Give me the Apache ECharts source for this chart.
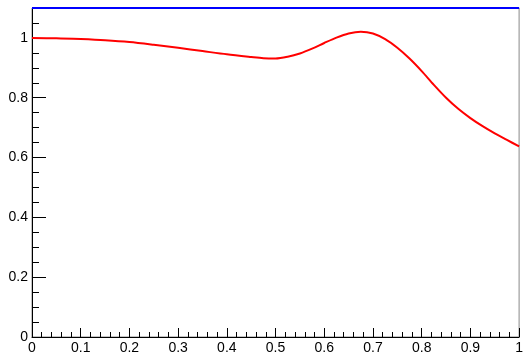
<!DOCTYPE html>
<html>
<head>
<meta charset="utf-8">
<script src="https://cdn.jsdelivr.net/npm/echarts@6/dist/echarts.min.js"></script>
<style>
  html, body { margin: 0; padding: 0; background: #fff; }
  #chart { width: 526px; height: 355px; }
</style>
</head>
<body>
<div id="chart"></div>
<script>
// Sampled response curve (x in [0,1])
const xValues = [0, 0.05, 0.1, 0.15, 0.2, 0.25, 0.3, 0.35, 0.4, 0.45, 0.475, 0.5, 0.525, 0.55, 0.575, 0.6, 0.625, 0.65, 0.675, 0.7, 0.725, 0.75, 0.775, 0.8, 0.825, 0.85, 0.875, 0.9, 0.925, 0.95, 0.975, 1.0];
const yValues = [1.000, 0.999, 0.996, 0.992, 0.986, 0.977, 0.967, 0.956, 0.945, 0.936, 0.932, 0.931, 0.937, 0.948, 0.964, 0.983, 1.001, 1.015, 1.021, 1.015, 0.996, 0.967, 0.931, 0.889, 0.843, 0.800, 0.763, 0.732, 0.705, 0.681, 0.659, 0.637];

// Constant reference level
const refX = [0, 1];
const refY = [1.1, 1.1];

// Axis ticks
const yMajorTicks = [0, 0.2, 0.4, 0.6, 0.8, 1.0];
const yMinorTicks = [0.05, 0.1, 0.15, 0.25, 0.3, 0.35, 0.45, 0.5, 0.55, 0.65, 0.7, 0.75, 0.85, 0.9, 0.95, 1.05];

const font = 'Liberation Sans, Arial, Helvetica, sans-serif';

const chart = echarts.init(document.getElementById('chart'), null, { renderer: 'canvas' });
chart.setOption({
  animation: false,
  backgroundColor: '#ffffff',
  grid: {
    left: 32, right: 6, top: 8, bottom: 15,
    show: true, borderColor: '#888888', borderWidth: 1, backgroundColor: 'transparent'
  },
  xAxis: {
    type: 'value', min: 0, max: 1, interval: 0.1,
    axisLine: { show: true, onZero: false, lineStyle: { color: '#000', width: 1 } },
    axisTick: { show: true, inside: true, length: 9, lineStyle: { color: '#000' } },
    minorTick: { show: true, splitNumber: 5, length: 5, lineStyle: { color: '#000' } },
    splitLine: { show: false },
    minorSplitLine: { show: false },
    axisLabel: { color: '#000', fontFamily: font, fontSize: 14, margin: 4 }
  },
  yAxis: [
    {
      type: 'value', min: 0, max: 1.1,
      axisLine: { show: true, onZero: false, lineStyle: { color: '#000', width: 1 } },
      axisTick: { show: true, inside: true, length: 14, customValues: yMajorTicks, lineStyle: { color: '#000' } },
      splitLine: { show: false },
      axisLabel: { color: '#000', fontFamily: font, fontSize: 14, margin: 4, customValues: yMajorTicks }
    },
    {
      type: 'value', min: 0, max: 1.1, position: 'left',
      axisLine: { show: false },
      axisTick: { show: true, inside: true, length: 7, customValues: yMinorTicks, lineStyle: { color: '#000' } },
      splitLine: { show: false },
      axisLabel: { show: false }
    }
  ],
  series: [
    {
      type: 'line',
      data: refX.map((x, i) => [x, refY[i]]),
      showSymbol: false,
      clip: false,
      lineStyle: { color: '#0000ff', width: 2 },
      z: 3
    },
    {
      type: 'line',
      data: xValues.map((x, i) => [x, yValues[i]]),
      smooth: 0.3,
      showSymbol: false,
      lineStyle: { color: '#ff0000', width: 2 },
      z: 4
    }
  ]
});
</script>
</body>
</html>
